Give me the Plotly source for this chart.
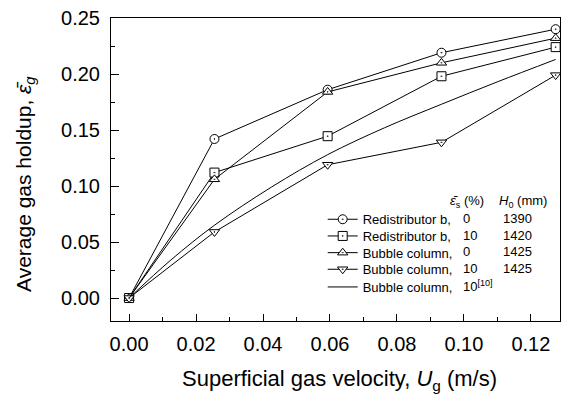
import plotly.graph_objects as go

# ---- data ----
ug = [0.0, 0.0255, 0.0593, 0.0933, 0.1274]
rb_0 = [0.0, 0.142, 0.186, 0.219, 0.240]
rb_10 = [0.0, 0.112, 0.1445, 0.198, 0.224]
bc_0 = [0.0, 0.106, 0.184, 0.210, 0.232]
bc_10 = [0.0, 0.059, 0.119, 0.139, 0.199]
ref_x = [0.0, 0.0125, 0.0255, 0.0425, 0.0593, 0.0763, 0.0933, 0.110, 0.1274]
ref_y = [0.0, 0.034, 0.065, 0.099, 0.128, 0.152, 0.173, 0.193, 0.213]

names = ["Redistributor b,", "Redistributor b,", "Bubble column,", "Bubble column,", "Bubble column,"]
solid_pct = ["0", "10", "0", "10", "10<sup>[10]</sup>"]
h0_mm = ["1390", "1420", "1425", "1425", ""]
x_ticks = [0, 0.02, 0.04, 0.06, 0.08, 0.10, 0.12]
x_ticktext = ["0.00", "0.02", "0.04", "0.06", "0.08", "0.10", "0.12"]
y_ticks = [0, 0.05, 0.10, 0.15, 0.20, 0.25]
y_ticktext = ["0.00", "0.05", "0.10", "0.15", "0.20", "0.25"]

FONT = "Liberation Sans, Arial, sans-serif"

L, T, W, H = 111, 18, 449, 303
def px(xp):
    return (xp - L) / W
def py(yp):
    return (T + H - yp) / H

legend_ids = ["legend", "legend2", "legend3", "legend4", "legend5"]
row_y = [218.3, 235, 251.7, 268.3, 286]

fig = go.Figure()
series = [(rb_0, "circle-dot"), (rb_10, "square-dot"), (bc_0, "triangle-up-dot"), (bc_10, "triangle-down-dot")]
for i, (ys, sym) in enumerate(series):
    fig.add_trace(go.Scatter(
        x=ug, y=ys, mode="lines+markers", name=names[i], legend=legend_ids[i],
        line=dict(color="black", width=1),
        marker=dict(symbol=sym, size=9, color="white", line=dict(color="black", width=1)),
    ))
fig.add_trace(go.Scatter(
    x=ref_x, y=ref_y, mode="lines", name=names[4], legend=legend_ids[4],
    line=dict(color="black", width=1, shape="spline"),
))

ann = []
ann.append(dict(text="<i>ε̄</i><sub>s</sub> (%)", x=px(448), y=py(201), xanchor="left", yanchor="middle"))
ann.append(dict(text="<i>H</i><sub>0</sub> (mm)", x=px(497), y=py(201), xanchor="left", yanchor="middle"))
for i in range(5):
    ann.append(dict(text=solid_pct[i], x=px(461), y=py(row_y[i]), xanchor="left", yanchor="middle"))
    if h0_mm[i]:
        ann.append(dict(text=h0_mm[i], x=px(534), y=py(row_y[i]), xanchor="right", yanchor="middle"))
for a in ann:
    a.update(xref="paper", yref="paper", showarrow=False, font=dict(size=13, color="black", family=FONT))

# axis titles
ann.append(dict(text="Superficial gas velocity, <i>U</i><sub>g</sub> (m/s)", x=px(339), y=py(380),
                xref="paper", yref="paper", xanchor="center", yanchor="middle", showarrow=False,
                font=dict(size=22, color="black", family=FONT)))
ann.append(dict(text="Average gas holdup, <i>ε̄</i><sub><i>g</i></sub>", x=px(25), y=py(184),
                xref="paper", yref="paper", xanchor="center", yanchor="middle", showarrow=False,
                textangle=-90, font=dict(size=21, color="black", family=FONT)))

layout_legends = {}
for i, lid in enumerate(legend_ids):
    layout_legends[lid] = dict(x=px(322.7), y=py(row_y[i] - 14), xanchor="left", yanchor="top",
                               bgcolor="rgba(0,0,0,0)", font=dict(size=13, family=FONT, color="black"),
                               itemwidth=30)

fig.update_layout(
    width=561, height=398,
    margin=dict(l=L, r=561 - L - W, t=T, b=398 - T - H),
    paper_bgcolor="white", plot_bgcolor="white",
    font=dict(family=FONT, color="black", size=16),
    showlegend=True,
    annotations=ann,
    xaxis=dict(
        range=[-0.0054, 0.1287], tickvals=x_ticks, ticktext=x_ticktext,
        ticks="inside", ticklen=7, tickwidth=1, tickcolor="black",
        minor=dict(ticks="inside", ticklen=4, tickwidth=1, tickcolor="black", dtick=0.01, tick0=0),
        showline=True, linecolor="black", linewidth=1, mirror=True,
        showgrid=False, zeroline=False,
        tickfont=dict(size=20), ticklabelstandoff=5,
    ),
    yaxis=dict(
        range=[-0.0205, 0.25], tickvals=y_ticks, ticktext=y_ticktext,
        ticks="inside", ticklen=8, tickwidth=1, tickcolor="black",
        minor=dict(ticks="inside", ticklen=4, tickwidth=1, tickcolor="black", dtick=0.025, tick0=0),
        showline=True, linecolor="black", linewidth=1, mirror=True,
        showgrid=False, zeroline=False,
        tickfont=dict(size=20), ticklabelstandoff=6,
    ),
    **layout_legends,
)

fig.write_html("out.html")
